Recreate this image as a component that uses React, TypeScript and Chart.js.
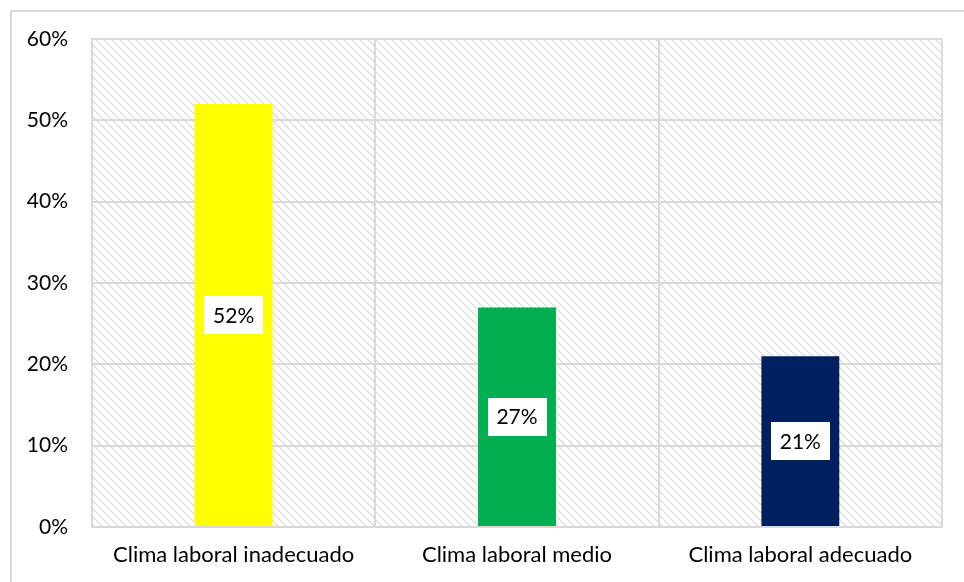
import React, { useEffect, useRef } from "react";
import { Chart, registerables } from "chart.js";

Chart.register(...registerables);

const categories = ["Clima laboral inadecuado", "Clima laboral medio", "Clima laboral adecuado"];
const values = [52, 27, 21];
const barColors = ["#FFFF00", "#00B050", "#002060"];
const yTicks = [0, 10, 20, 30, 40, 50, 60];

const FONT = "Lato, 'Open Sans', sans-serif";

function makePattern(ctx: CanvasRenderingContext2D) {
  const c = document.createElement("canvas");
  c.width = 8;
  c.height = 8;
  const p = c.getContext("2d")!;
  p.fillStyle = "#ffffff";
  p.fillRect(0, 0, 8, 8);
  for (let i = 0; i < 8; i++) {
    p.fillStyle = "#d6d6d6";
    p.fillRect(i, i, 1, 1);
    p.fillStyle = "#ebebeb";
    p.fillRect((i + 1) % 8, i, 1, 1);
  }
  return ctx.createPattern(c, "repeat");
}

const hatchPlugin = {
  id: "hatch",
  beforeDraw(chart: any) {
    const { ctx, chartArea } = chart;
    const pat = makePattern(ctx);
    if (!pat) return;
    ctx.save();
    ctx.fillStyle = pat;
    ctx.fillRect(chartArea.left, chartArea.top, chartArea.right - chartArea.left, chartArea.bottom - chartArea.top);
    ctx.restore();
  },
};

const labelPlugin = {
  id: "boxLabels",
  afterDatasetsDraw(chart: any) {
    const { ctx } = chart;
    const meta = chart.getDatasetMeta(0);
    ctx.save();
    ctx.font = `21px ${FONT}`;
    ctx.textAlign = "center";
    ctx.textBaseline = "middle";
    meta.data.forEach((bar: any, i: number) => {
      const text = values[i] + "%";
      const cx = bar.x;
      const cy = (bar.y + bar.base) / 2;
      const w = 59;
      const h = 38;
      ctx.fillStyle = "#ffffff";
      ctx.fillRect(Math.round(cx - w / 2), Math.round(cy - h / 2), w, h);
      ctx.fillStyle = "#000000";
      ctx.fillText(text, cx, cy + 1);
    });
    ctx.restore();
  },
};

export default function App() {
  const ref = useRef<HTMLCanvasElement>(null);

  useEffect(() => {
    document.body.style.margin = "0";
    document.body.style.overflow = "hidden";
    const chart = new Chart(ref.current!, {
      type: "bar",
      data: {
        labels: categories,
        datasets: [
          {
            data: values,
            backgroundColor: barColors,
            barPercentage: 0.275,
            categoryPercentage: 1,
          },
        ],
      },
      options: {
        animation: false,
        responsive: false,
        maintainAspectRatio: false,
        layout: { padding: { left: 0, right: 22, top: 39, bottom: 0 } },
        plugins: { legend: { display: false }, tooltip: { enabled: false } },
        scales: {
          x: {
            offset: true,
            grid: { color: "#d9d9d9", lineWidth: 2, offset: true, drawTicks: false },
            border: { color: "#d9d9d9", width: 2 },
            ticks: { color: "#000000", font: { family: FONT, size: 22 }, padding: 15 },
            afterFit(scale: any) {
              scale.height = 55;
            },
          },
          y: {
            min: 0,
            max: 60,
            afterBuildTicks(scale: any) {
              scale.ticks = yTicks.map((v) => ({ value: v }));
            },
            grid: { color: "#d9d9d9", lineWidth: 2, drawTicks: false },
            border: { color: "#d9d9d9", width: 2 },
            ticks: {
              color: "#000000",
              font: { family: FONT, size: 21 },
              padding: 24,
              callback: (v: any) => v + "%",
            },
            afterFit(scale: any) {
              scale.width = 92;
            },
          },
        },
      },
      plugins: [hatchPlugin, labelPlugin],
    });
    return () => chart.destroy();
  }, []);

  return (
    <div style={{ position: "relative", width: 964, height: 582, overflow: "hidden", background: "#fff" }}>
      <canvas ref={ref} width={964} height={582} style={{ position: "absolute", left: 0, top: 0 }} />
      <div
        style={{
          position: "absolute",
          left: 10,
          top: 10,
          width: 1000,
          height: 1000,
          border: "2px solid #d9d9d9",
          pointerEvents: "none",
        }}
      />
    </div>
  );
}
